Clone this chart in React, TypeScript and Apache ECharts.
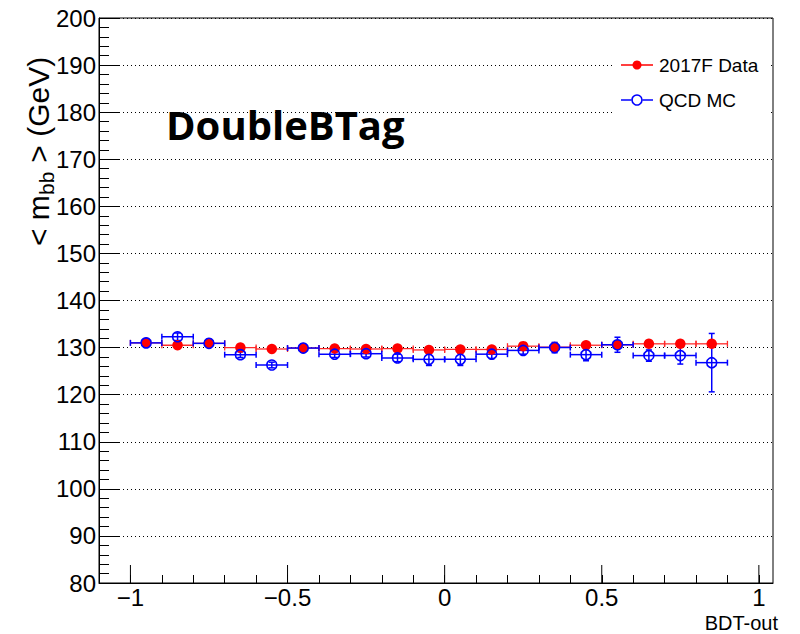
import React, { useEffect, useRef } from "react";
import * as echarts from "echarts";

// bin centres of BDT-out
const binCenters = [-0.95, -0.85, -0.75, -0.65, -0.55, -0.45, -0.35, -0.25, -0.15, -0.05, 0.05, 0.15, 0.25, 0.35, 0.45, 0.55, 0.65, 0.75, 0.85];
const binHalfWidth = 0.05;
// 2017F Data
const dataMean = [131.0, 130.5, 130.9, 130.0, 129.7, 129.9, 129.8, 129.7, 129.8, 129.5, 129.6, 129.6, 130.3, 130.1, 130.5, 130.6, 130.8, 130.8, 130.8];
const dataErr = [0.35, 0.3, 0.3, 0.3, 0.3, 0.3, 0.3, 0.3, 0.3, 0.3, 0.3, 0.3, 0.3, 0.3, 0.35, 0.35, 0.35, 0.4, 0.45];
// QCD MC
const mcMean = [131.0, 132.3, 130.9, 128.5, 126.3, 129.9, 128.6, 128.7, 127.8, 127.5, 127.5, 128.6, 129.4, 130.0, 128.5, 130.6, 128.3, 128.3, 126.8];
const mcErr = [0.6, 0.8, 0.6, 0.6, 0.6, 0.6, 0.7, 0.7, 0.8, 1.3, 1.3, 0.9, 0.8, 1.1, 1.3, 1.6, 1.2, 1.8, 6.2];
// x major tick positions
const xMajorTicks = [-1, -0.5, 0, 0.5, 1];

const FONT = "'Liberation Sans', Arial, Helvetica, sans-serif";

function fmtX(v: number): string {
  const r = Math.round(v * 100) / 100;
  if (Math.abs(r * 2 - Math.round(r * 2)) > 1e-6 || Math.abs(r) > 1.0001) return "";
  if (r < 0) return "\u2212" + String(Math.abs(r));
  return String(r);
}

function errorBarSeries(name: string, xs: number[], ys: number[], eys: number[], color: string, width: number, cap: number) {
  return {
    type: "custom",
    name,
    z: 3,
    silent: true,
    data: xs.map((x, i) => [x, ys[i], binHalfWidth, eys[i]]),
    renderItem: (params: any, api: any) => {
      const x = api.value(0);
      const y = api.value(1);
      const ex = api.value(2);
      const ey = api.value(3);
      const l = api.coord([x - ex, y]);
      const r = api.coord([x + ex, y]);
      const t = api.coord([x, y + ey]);
      const b = api.coord([x, y - ey]);
      const style = { stroke: color, lineWidth: width };
      return {
        type: "group",
        children: [
          { type: "line", shape: { x1: l[0], y1: l[1], x2: r[0], y2: r[1] }, style },
          { type: "line", shape: { x1: l[0], y1: l[1] - cap, x2: l[0], y2: l[1] + cap }, style },
          { type: "line", shape: { x1: r[0], y1: r[1] - cap, x2: r[0], y2: r[1] + cap }, style },
          { type: "line", shape: { x1: t[0], y1: t[1], x2: b[0], y2: b[1] }, style },
          { type: "line", shape: { x1: t[0] - cap, y1: t[1], x2: t[0] + cap, y2: t[1] }, style },
          { type: "line", shape: { x1: b[0] - cap, y1: b[1], x2: b[0] + cap, y2: b[1] }, style },
        ],
      };
    },
  };
}

export default function App() {
  const ref = useRef<HTMLDivElement>(null);
  useEffect(() => {
    if (!ref.current) return;
    const chart = echarts.init(ref.current, undefined, { renderer: "svg" });
    const option: any = {
      animation: false,
      backgroundColor: "#ffffff",
      grid: { left: 99, top: 18, right: 27, bottom: 51, show: true, borderColor: "#000", borderWidth: 1, backgroundColor: "transparent" },
      xAxis: {
        type: "value",
        min: -1.1,
        max: 1.045,
        interval: 0.1,
        axisLine: { show: true, onZero: false, lineStyle: { color: "#000", width: 1 } },
        axisTick: { show: true, inside: true, length: 8, lineStyle: { color: "#000", width: 1 } },
        axisLabel: { formatter: fmtX, color: "#000", fontFamily: FONT, fontSize: 24, margin: 2, showMaxLabel: false },
        splitLine: { show: false },
      },
      yAxis: {
        type: "value",
        min: 80,
        max: 200,
        interval: 10,
        axisLine: { show: true, onZero: false, lineStyle: { color: "#000", width: 1 } },
        axisTick: { show: true, inside: true, length: 20, lineStyle: { color: "#000", width: 1 } },
        minorTick: { show: true, splitNumber: 5, length: 10, lineStyle: { color: "#000", width: 1 } },
        axisLabel: { color: "#000", fontFamily: FONT, fontSize: 24, margin: 3 },
        splitLine: { show: true, lineStyle: { color: "#000", width: 1, type: [1, 3] } },
      },
      series: [
        {
          type: "custom",
          name: "xMajorTicks",
          silent: true,
          z: 4,
          clip: false,
          data: xMajorTicks.map((v) => [v, 80]),
          renderItem: (params: any, api: any) => {
            const p = api.coord([api.value(0), api.value(1)]);
            return { type: "line", shape: { x1: p[0], y1: p[1], x2: p[0], y2: p[1] - 18 }, style: { stroke: "#000", lineWidth: 1 } };
          },
        },
        errorBarSeries("2017F Data err", binCenters, dataMean, dataErr, "#ff2a2a", 1.3, 3),
        {
          type: "scatter",
          name: "2017F Data",
          z: 4,
          symbol: "circle",
          symbolSize: 10.5,
          itemStyle: { color: "#ff0000", opacity: 1 },
          data: binCenters.map((x, i) => [x, dataMean[i]]),
        },
        errorBarSeries("QCD MC err", binCenters, mcMean, mcErr, "#0000ff", 1.5, 3),
        {
          type: "scatter",
          name: "QCD MC",
          z: 6,
          symbol: "circle",
          symbolSize: 10,
          itemStyle: { color: "rgba(0,0,0,0)", borderColor: "#0000ff", borderWidth: 1.6, opacity: 1 },
          data: binCenters.map((x, i) => [x, mcMean[i]]),
        },
      ],
      graphic: [
        // legend box (white, covers grid lines)
        { type: "rect", z: 50, left: 614, top: 42, shape: { width: 157, height: 76 }, style: { fill: "#fff", stroke: "none" } },
        { type: "line", z: 51, shape: { x1: 621, y1: 65, x2: 653, y2: 65 }, style: { stroke: "#ff0000", lineWidth: 1.5 } },
        { type: "circle", z: 52, shape: { cx: 637, cy: 65, r: 4.5 }, style: { fill: "#ff0000" } },
        { type: "text", z: 52, x: 659, y: 65, style: { text: "2017F Data", fill: "#000", font: "19px " + FONT, verticalAlign: "middle", align: "left" } },
        { type: "line", z: 51, shape: { x1: 621, y1: 100, x2: 631.5, y2: 100 }, style: { stroke: "#0000ff", lineWidth: 1.5 } },
        { type: "line", z: 51, shape: { x1: 642.5, y1: 100, x2: 653, y2: 100 }, style: { stroke: "#0000ff", lineWidth: 1.5 } },
        { type: "circle", z: 52, shape: { cx: 637, cy: 100, r: 5 }, style: { fill: "none", stroke: "#0000ff", lineWidth: 1.6 } },
        { type: "text", z: 52, x: 659, y: 100, style: { text: "QCD MC", fill: "#000", font: "19px " + FONT, verticalAlign: "middle", align: "left" } },
        // big label
        { type: "text", z: 52, x: 166, y: 124, style: { text: "DoubleBTag", fill: "#000", font: "bold 40px 'Open Sans', sans-serif", verticalAlign: "middle", align: "left" } },
        // x axis title
        { type: "text", z: 52, x: 778, y: 623, style: { text: "BDT-out", fill: "#000", font: "20px " + FONT, verticalAlign: "middle", align: "right" } },
        // y axis title, rotated
        {
          type: "group",
          x: 38,
          y: 246,
          rotation: Math.PI / 2,
          z: 52,
          children: [
            { type: "text", x: 0, y: 0, style: { text: "< m", fill: "#000", font: "30px " + FONT, verticalAlign: "middle", align: "left" } },
            { type: "text", x: 51, y: 8, style: { text: "bb", fill: "#000", font: "21px " + FONT, verticalAlign: "middle", align: "left" } },
            { type: "text", x: 75, y: 0, style: { text: " > (GeV)", fill: "#000", font: "30px " + FONT, verticalAlign: "middle", align: "left" } },
          ],
        },
      ],
    };
    chart.setOption(option);
    return () => chart.dispose();
  }, []);
  return <div ref={ref} style={{ position: "absolute", left: 0, top: 0, width: 800, height: 634 }} />;
}
